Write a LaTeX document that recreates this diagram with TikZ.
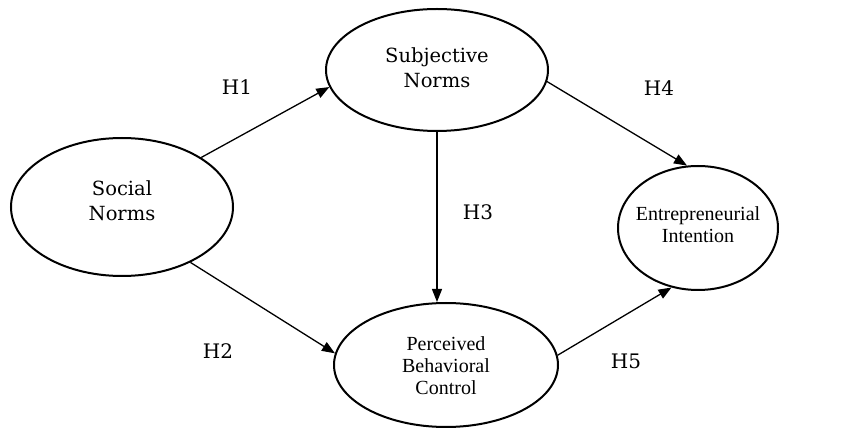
\documentclass[tikz,border=0pt]{standalone}
\usepackage{fontspec}
\setmainfont{DejaVu Serif}
\newfontfamily\condfont{Liberation Serif}
\usetikzlibrary{shapes.geometric}
\usetikzlibrary{arrows.meta}
\tikzset{
	constructstyle/.style={ellipse,draw=black,line width=2pt,fill=white,inner sep=0pt},
	bigtextstyle/.style={align=center,inner sep=0pt,font=\fontsize{19.5}{25}\selectfont},
	smalltextstyle/.style={align=center,inner sep=0pt,font=\condfont\fontsize{20}{22}\selectfont},
	hypstyle/.style={inner sep=0pt,font=\fontsize{20}{22}\selectfont},
	pathstyle/.style={-{Triangle[length=13pt,width=10pt]},line width=1.3pt}
}
\begin{document}
\begin{tikzpicture}[x=1pt,y=-1pt]
	\useasboundingbox (0,0) rectangle (847,430);
	\node[constructstyle,minimum width=222pt,minimum height=138pt] (sn) at (122,207) {};
	\node[bigtextstyle] (sntext) at (122,201) {Social\\Norms};
	\node[constructstyle,minimum width=222pt,minimum height=122pt] (subj) at (437,70) {};
	\node[bigtextstyle] (subjtext) at (437,68) {Subjective\\Norms};
	\node[constructstyle,minimum width=160pt,minimum height=124pt] (ei) at (698,228) {};
	\node[smalltextstyle] (eitext) at (698,225) {Entrepreneurial\\Intention};
	\node[constructstyle,minimum width=224pt,minimum height=124pt] (pbc) at (446,365) {};
	\node[smalltextstyle] (pbctext) at (446,366) {Perceived\\Behavioral\\Control};
	% hypotheses
	\draw[pathstyle] (sn.32.7)--(subj.189.3);
	\node[hypstyle] (h1) at (237,87) {H1};
	\draw[pathstyle] (sn.-39.9)--(pbc.174.8);
	\node[hypstyle] (h2) at (218,351) {H2};
	\draw[pathstyle] (subj.south)--(subj.south |- pbc.north);
	\node[hypstyle] (h3) at (478,212) {H3};
	\draw[pathstyle] (subj.-6.2)--(ei.100.2);
	\node[hypstyle] (h4) at (659,88) {H4};
	\draw[pathstyle] (pbc.5.1)--(ei.246.2);
	\node[hypstyle] (h5) at (626,361) {H5};
\end{tikzpicture}
\end{document}
